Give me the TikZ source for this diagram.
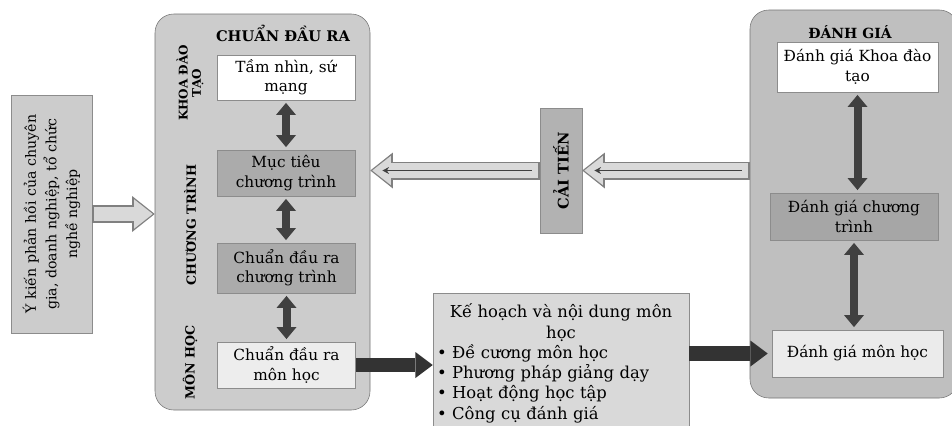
\documentclass[tikz,border=0pt]{standalone}
\usepackage{fontspec}
\setmainfont{DejaVu Serif}
\usetikzlibrary{arrows.meta}

\tikzset{
  box/.style={draw=black!45, align=center, inner sep=1pt, font=\fontsize{11.5}{14.5}\selectfont},
  panel/.style={draw=black!55, rounded corners=14pt},
  side/.style={rotate=90, align=center, font=\bfseries\fontsize{9.5}{10}\selectfont},
  dbl/.style={line width=6pt, draw=black!75, shorten <=2pt, shorten >=2pt,
    {Triangle[width=15pt,length=9pt,line width=0pt]}-{Triangle[width=15pt,length=9pt,line width=0pt]}},
  fat/.style={line width=11pt, draw=black!80, -{Triangle[width=19.5pt,length=13pt,line width=0pt]}},
  hollow/.style={line width=11pt, draw=black!15, shorten >=1.5pt, shorten <=1.2pt,
    -{Triangle[width=22pt,length=14pt,line width=0pt]},
    preaction={draw=black!50, line width=13.5pt, shorten >=0pt, shorten <=0pt,
      -{Triangle[width=27pt,length=17pt,line width=0pt]}}},
  hollowline/.style={hollow, postaction={draw=black!75, line width=1.2pt, shorten >=9pt, shorten <=6pt,
      -{Stealth[length=5pt,width=5pt]}}}
}

\begin{document}
\begin{tikzpicture}[x=0.75pt, y=-0.75pt]
\clip (0,0) rectangle (952,425);
\fill[white] (0,0) rectangle (952,425);

\node[box, rotate=90, fill=black!20, minimum width=178.5pt, minimum height=60.75pt, text width=172pt,
  font=\fontsize{10.6}{15.5}\selectfont] (feedback) at (51.5,214)
  {Ý kiến phản hồi của chuyên\\ gia, doanh nghiệp, tổ chức\\ nghề nghiệp};

\node[panel, fill=black!20, minimum width=161.25pt, minimum height=297pt] (chuan) at (262.5,212) {};
\node[font=\bfseries\fontsize{11}{13}\selectfont] (tchuan) at (283,33) {CHUẨN ĐẦU RA};
\node[side, font=\bfseries\fontsize{9}{10}\selectfont] (lkhoa) at (190,83) {KHOA ĐÀO\\ TẠO};
\node[side] (lchuong) at (190,225) {CHƯƠNG TRÌNH};
\node[side] (lmon) at (190,362) {MÔN HỌC};

\node[box, fill=white, minimum width=103.5pt, minimum height=33.75pt] (tamnhin) at (286,77.5) {Tầm nhìn, sứ\\ mạng};
\node[box, fill=black!33, minimum width=103.5pt, minimum height=34.5pt] (muctieu) at (286,173) {Mục tiêu\\ chương trình};
\node[box, fill=black!33, minimum width=103.5pt, minimum height=37.5pt] (cdrct) at (286.5,268) {Chuẩn đầu ra\\ chương trình};
\node[box, fill=black!7, minimum width=103.5pt, minimum height=34.5pt] (cdrmh) at (286.5,365) {Chuẩn đầu ra\\ môn học};

\node[box, rotate=90, fill=black!30, minimum width=93.75pt, minimum height=31.5pt,
  font=\bfseries\fontsize{11}{13}\selectfont] (caitien) at (561,170.5) {CẢI TIẾN};

\node[box, anchor=north, fill=black!15, text width=186pt, align=left, inner xsep=3pt, inner ysep=8pt,
  font=\fontsize{12.3}{15.2}\selectfont] (kehoach) at (561,293)
  {{\centering Kế hoạch và nội dung môn\\ học\par}
  \textbullet\ Đề cương môn học\\
  \textbullet\ Phương pháp giảng dạy\\
  \textbullet\ Hoạt động học tập\\
  \textbullet\ Công cụ đánh giá};

\node[panel, fill=black!25, minimum width=156pt, minimum height=291pt] (danhgia) at (854,204) {};
\node[font=\bfseries\fontsize{10.5}{12}\selectfont] (tdanhgia) at (850,32) {ĐÁNH GIÁ};
\node[box, fill=white, minimum width=120.75pt, minimum height=37.5pt] (dgkhoa) at (857.5,67) {Đánh giá Khoa đào\\ tạo};
\node[box, fill=black!35, minimum width=126pt, minimum height=35.25pt] (dgct) at (854,216.5) {Đánh giá chương\\ trình};
\node[box, fill=black!8, minimum width=128.25pt, minimum height=35.25pt] (dgmh) at (857.5,353.5) {Đánh giá môn học};

\foreach \a/\b in {tamnhin/muctieu, muctieu/cdrct, cdrct/cdrmh, dgkhoa/dgct, dgct/dgmh}
\draw[dbl] (\a.south) -- (\a.south |- \b.north);

\draw[fat] (cdrmh.east) -- (cdrmh.east -| kehoach.west);
\draw[fat, shorten >=3pt] (kehoach.east |- dgmh.west) -- (dgmh.west);

\draw[hollow] (feedback.south) -- (feedback.south -| chuan.west);
\draw[hollowline] (caitien.south -| danhgia.west) -- (caitien.south);
\draw[hollowline] (caitien.north) -- (caitien.north -| chuan.east);
\end{tikzpicture}
\end{document}
